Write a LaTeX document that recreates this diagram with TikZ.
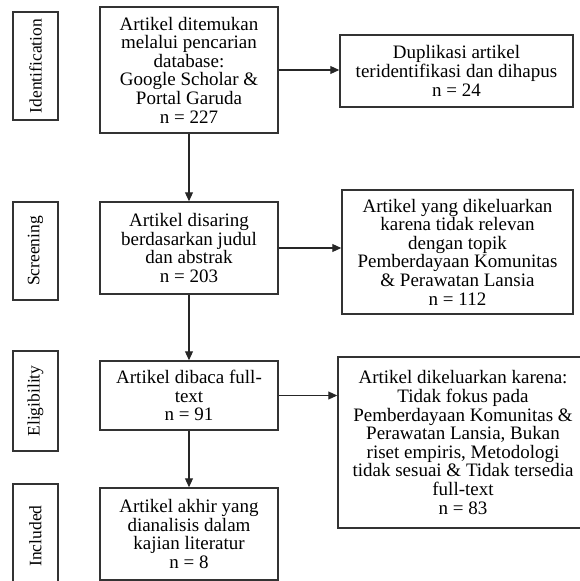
\documentclass[tikz,border=0pt]{standalone}
\usepackage{fontspec}
\setmainfont{Liberation Serif}
\usetikzlibrary{arrows.meta}
\tikzstyle{block} = [draw=black!80, line width=1.5pt, rectangle, align=center, inner sep=2pt, font=\fontsize{19}{18.6}\selectfont]
\tikzstyle{stage} = [block, rotate=90, minimum height=45pt, font=\fontsize{17.5}{18}\selectfont]
\tikzstyle{process} = [block, minimum width=178pt]
\tikzstyle{excluded} = [block]
\tikzstyle{link} = [-{Triangle[length=9pt, width=8pt]}, line width=1.1pt, black!85]

\begin{document}
\begin{tikzpicture}
    \useasboundingbox (0,0) rectangle (580pt,-581pt);

    % Stages.
    \foreach\n/\t/\y/\h in {ident/Identification/66/108, screen/Screening/251/98,
                            elig/Eligibility/401/100, incl/Included/536/104} {
        \node (\n) [stage, minimum width=\h pt] at (35.5pt,-\y pt) {\t};
    }

    % Main column.
    \node (box1) [process, minimum height=126pt] at (189pt,-70pt)
        {Artikel ditemukan\\melalui pencarian\\database:\\Google Scholar \&\\Portal Garuda\\n = 227};
    \node (box2) [process, minimum height=92pt] at (189pt,-248pt)
        {Artikel disaring\\berdasarkan judul\\dan abstrak\\n = 203};
    \node (box3) [process, minimum height=69pt] at (189pt,-395.5pt)
        {Artikel dibaca full-\\text\\n = 91};
    \node (box4) [process, minimum height=92pt] at (189pt,-534pt)
        {Artikel akhir yang\\dianalisis dalam\\kajian literatur\\n = 8};

    % Excluded articles.
    \node (dup) [excluded, minimum width=233pt, minimum height=72pt] at (456.5pt,-71pt)
        {Duplikasi artikel\\teridentifikasi dan dihapus\\n = 24};
    \node (irrel) [excluded, minimum width=231pt, minimum height=124pt] at (457.5pt,-252pt)
        {Artikel yang dikeluarkan\\karena tidak relevan\\dengan topik\\Pemberdayaan Komunitas\\\& Perawatan Lansia\\n = 112};
    \node (full) [excluded, minimum width=250pt, minimum height=171pt] at (463pt,-442.5pt)
        {Artikel dikeluarkan karena:\\Tidak fokus pada\\Pemberdayaan Komunitas \&\\Perawatan Lansia, Bukan\\riset empiris, Metodologi\\tidak sesuai \& Tidak tersedia\\full-text\\n = 83};

    % Arrows.
    \foreach\i/\j in {1/2, 2/3, 3/4} {
        \draw [link] (box\i) -- (box\j);
    }
    \foreach\i/\r in {1/dup, 2/irrel, 3/full} {
        \draw [link] (box\i.east) -- (box\i.east -| \r.west);
    }
\end{tikzpicture}
\end{document}
